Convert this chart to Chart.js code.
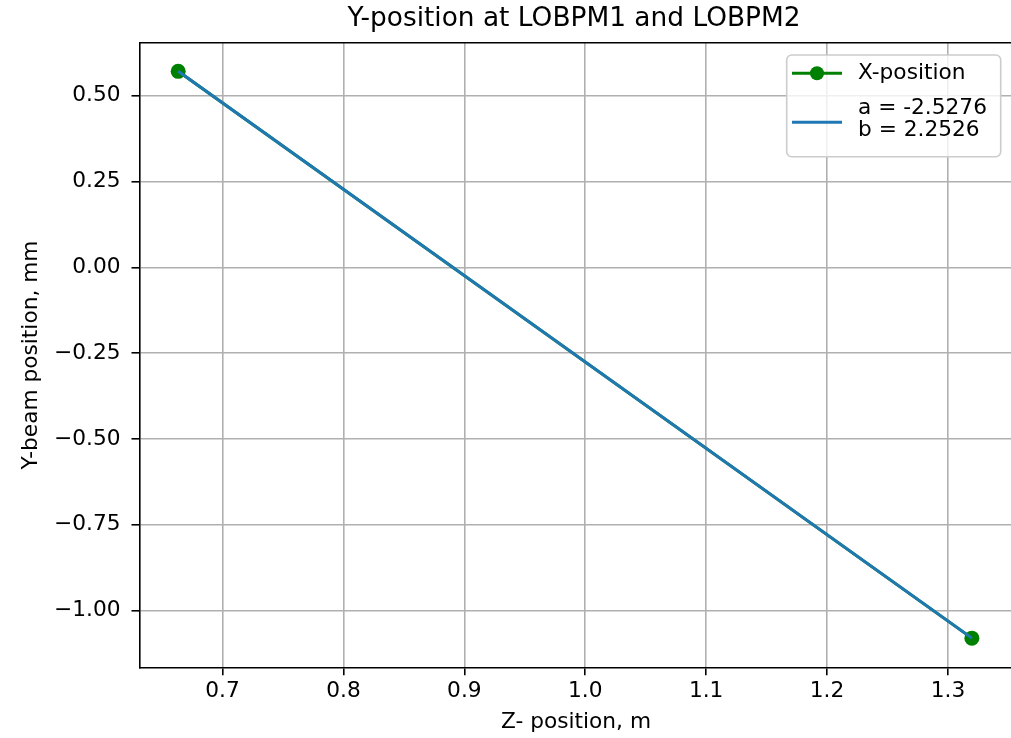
<!DOCTYPE html>
<html>
<head>
<meta charset="utf-8">
<script src="https://cdn.jsdelivr.net/npm/chart.js@4/dist/chart.umd.min.js"></script>
<style>
  html, body { margin: 0; padding: 0; background: #fff; overflow: hidden; }
  #wrap { width: 1011px; height: 738px; overflow: hidden; position: relative; }
  canvas { display: block; }
</style>
</head>
<body>
<div id="wrap"><canvas id="c" width="1020" height="738"></canvas></div>
<script>
// ---- data ----
const zPositions = [0.6633, 1.3198];
const yPositions = [0.571, -1.080];
const fitZ = [0.6633, 1.3198];
const fitY = [0.571, -1.080];
const seriesLabels = ['X-position', 'a = -2.5276\nb = 2.2526'];
const xTicks = [0.7, 0.8, 0.9, 1.0, 1.1, 1.2, 1.3];
const yTicks = [0.5, 0.25, 0.0, -0.25, -0.5, -0.75, -1.0];
const titleText = 'Y-position at LOBPM1 and LOBPM2';
const xLabel = 'Z- position, m';
const yLabel = 'Y-beam position, mm';

const FONT = "'DejaVu Sans', sans-serif";
const FS = 21.7;
const GREEN = '#008000';
const BLUE = '#1f77b4';

const legendPlugin = {
  id: 'mplLegend',
  afterDraw(chart) {
    const ctx = chart.ctx;
    const x0 = 786.7, y0 = 55, w = 214, h = 101.7, r = 5;
    ctx.save();
    ctx.beginPath();
    ctx.moveTo(x0 + r, y0);
    ctx.lineTo(x0 + w - r, y0);
    ctx.arcTo(x0 + w, y0, x0 + w, y0 + r, r);
    ctx.lineTo(x0 + w, y0 + h - r);
    ctx.arcTo(x0 + w, y0 + h, x0 + w - r, y0 + h, r);
    ctx.lineTo(x0 + r, y0 + h);
    ctx.arcTo(x0, y0 + h, x0, y0 + h - r, r);
    ctx.lineTo(x0, y0 + r);
    ctx.arcTo(x0, y0, x0 + r, y0, r);
    ctx.closePath();
    ctx.fillStyle = 'rgba(255,255,255,0.8)';
    ctx.fill();
    ctx.strokeStyle = '#cccccc';
    ctx.lineWidth = 1.6;
    ctx.stroke();

    const ds = chart.data.datasets;
    ctx.lineWidth = 3;
    ctx.strokeStyle = ds[1].borderColor;
    ctx.beginPath(); ctx.moveTo(792, 73.3); ctx.lineTo(842, 73.3); ctx.stroke();
    ctx.fillStyle = ds[1].pointBackgroundColor;
    ctx.beginPath(); ctx.arc(817, 73.3, 7, 0, Math.PI * 2); ctx.fill();
    ctx.strokeStyle = ds[0].borderColor;
    ctx.beginPath(); ctx.moveTo(792, 122.3); ctx.lineTo(842, 122.3); ctx.stroke();

    ctx.fillStyle = '#000';
    ctx.font = FS + 'px ' + FONT;
    ctx.textAlign = 'left';
    ctx.textBaseline = 'middle';
    ctx.fillText(ds[1].label, 858, 73.3);
    const lines = ds[0].label.split('\n');
    ctx.fillText(lines[0], 858, 108.3);
    ctx.fillText(lines[1], 858, 130.3);
    ctx.restore();
  }
};

const titlePlugin = {
  id: 'axTitle',
  afterDraw(chart) {
    const c = chart.ctx;
    c.save();
    c.fillStyle = '#000';
    c.font = '26.4px ' + FONT;
    c.textAlign = 'center';
    c.textBaseline = 'middle';
    c.fillText(titleText, 574, 19);
    c.restore();
  }
};

const fmtY = v => {
  const s = Math.abs(v).toFixed(2);
  return v < -1e-9 ? '\u2212' + s : s;
};

new Chart(document.getElementById('c'), {
  type: 'scatter',
  data: {
    datasets: [
      {
        label: seriesLabels[1],
        data: fitZ.map((z, i) => ({ x: z, y: fitY[i] })),
        showLine: true,
        borderColor: BLUE,
        borderWidth: 3,
        pointRadius: 0,
        pointHoverRadius: 0,
        order: 1
      },
      {
        label: seriesLabels[0],
        data: zPositions.map((z, i) => ({ x: z, y: yPositions[i] })),
        showLine: true,
        borderColor: GREEN,
        borderWidth: 3,
        pointRadius: 7.5,
        pointBackgroundColor: GREEN,
        pointBorderColor: GREEN,
        pointBorderWidth: 0,
        order: 2
      }
    ]
  },
  options: {
    responsive: false,
    animation: false,
    devicePixelRatio: 1,
    layout: { padding: { left: 0, right: 6, top: 42.7, bottom: 0 } },
    plugins: {
      legend: { display: false },
      tooltip: { enabled: false },
      title: { display: false }
    },
    scales: {
      x: {
        type: 'linear',
        min: 0.6313,
        max: 1.3534,
        afterBuildTicks: s => { s.ticks = xTicks.map(v => ({ value: v })); },
        afterFit: s => { s.height = 70.7; s.paddingLeft = 0; s.paddingRight = 0; },
        border: { display: true, color: '#000', width: 1.6 },
        grid: { color: '#b0b0b0', lineWidth: 1.6, drawTicks: true, tickLength: 8, tickColor: '#000', tickWidth: 1.6 },
        ticks: {
          color: '#000',
          font: { family: FONT, size: FS, lineHeight: 1.2 },
          padding: 3.5,
          maxRotation: 0,
          autoSkip: false,
          callback: v => Number(v).toFixed(1)
        },
        title: {
          display: true,
          text: xLabel,
          color: '#000',
          font: { family: FONT, size: FS, lineHeight: 1.2 },
          padding: { top: 0, bottom: 3 }
        }
      },
      y: {
        type: 'linear',
        min: -1.1649,
        max: 0.6544,
        afterBuildTicks: s => { s.ticks = yTicks.map(v => ({ value: v })); },
        afterFit: s => { s.width = 139.5; s.paddingTop = 0; s.paddingBottom = 0; },
        border: { display: true, color: '#000', width: 1.6 },
        grid: { color: '#b0b0b0', lineWidth: 1.6, drawTicks: true, tickLength: 8, tickColor: '#000', tickWidth: 1.6 },
        ticks: {
          color: '#000',
          font: { family: FONT, size: FS, lineHeight: 1.2 },
          padding: 11,
          autoSkip: false,
          callback: v => fmtY(v)
        },
        title: {
          display: true,
          text: yLabel,
          color: '#000',
          font: { family: FONT, size: FS, lineHeight: 1.2 },
          padding: { top: 18.5, bottom: 0 }
        }
      }
    }
  },
  plugins: [
    {
      id: 'whiteBg',
      beforeDraw(chart) {
        const c = chart.ctx;
        c.save(); c.fillStyle = '#fff'; c.fillRect(0, 0, chart.width, chart.height); c.restore();
      },
      afterDraw(chart) {
        const a = chart.chartArea, c = chart.ctx;
        c.save(); c.strokeStyle = '#000'; c.lineWidth = 1.6;
        c.beginPath(); c.moveTo(a.left, a.top); c.lineTo(a.right, a.top); c.lineTo(a.right, a.bottom); c.stroke();
        c.restore();
      }
    },
    titlePlugin,
    legendPlugin
  ]
});
</script>
</body>
</html>
